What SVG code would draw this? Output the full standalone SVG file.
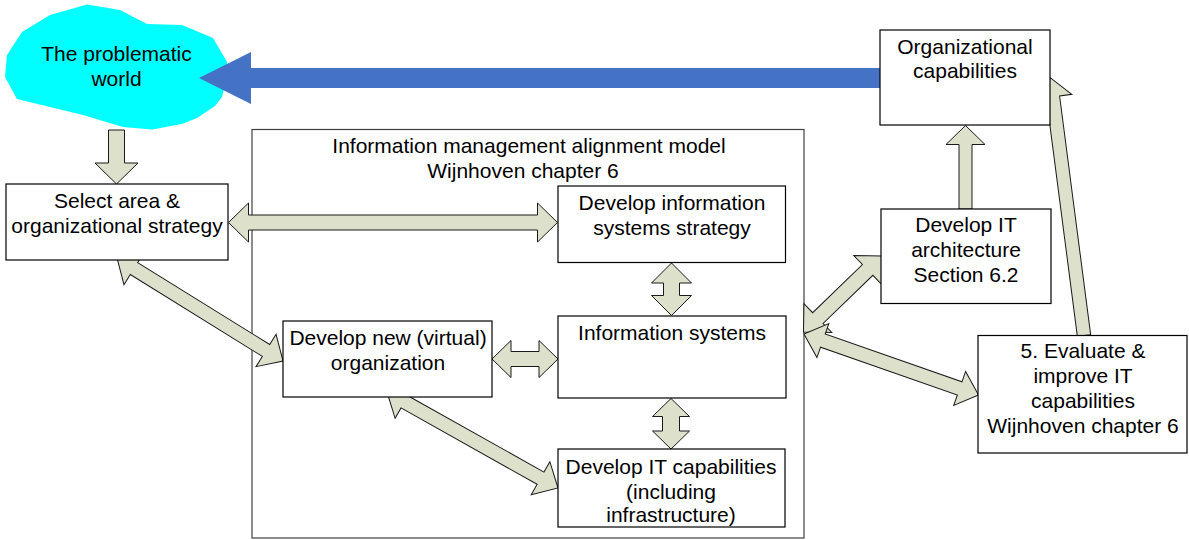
<svg xmlns="http://www.w3.org/2000/svg" width="1189" height="540" viewBox="0 0 1189 540">
<style>
  .box { fill: #ffffff; stroke: #000000; stroke-width: 1.2; }
  .big { fill: #ffffff; stroke: #404040; stroke-width: 1.2; }
  .ba { fill: #dde0cb; stroke: #1a1a1a; stroke-width: 1; stroke-linejoin: miter; }
  .blue { fill: #4472c4; stroke: none; }
  text { font-family: "Liberation Sans", Arial, sans-serif; font-size: 21px; fill: #000000; text-anchor: middle; }
</style>
<rect x="0" y="0" width="1189" height="540" fill="#ffffff"/>

<g id="node-problematic-world">
  <polygon points="5,77 7,55 22,32 50,15 87,4.5 120,10 147,24 182,25 213,38 227,62 226,80 222,97 215,106 197,118 182,124 152,129.5 123,127 83,115 17,99" fill="#00ffff" stroke="none"/>
  <text x="116.5" y="61">The problematic</text>
  <text x="116.5" y="86">world</text>
</g>

<g id="node-im-alignment-model">
  <rect class="big" x="252" y="129.5" width="552" height="408.5"/>
  <text x="529" y="153">Information management alignment model</text>
  <text x="523" y="177.5">Wijnhoven chapter 6</text>
</g>

<g id="connectors">
  <polygon class="blue" points="880,68 251,68 251,52 199,78 251,104 251,88 880,88"/>
  <polygon class="ba" transform="translate(116.5,130) rotate(90)" points="0,-8 33,-8 33,-21.5 54,0 33,21.5 33,8 0,8"/>
  <polygon class="ba" transform="translate(228.5,222.5)" points="0,0 20,-19.5 20,-7.5 309,-7.5 309,-19.5 329,0 309,19.5 309,7.5 20,7.5 20,19.5"/>
  <polygon class="ba" transform="translate(117,258) rotate(31.82)" points="0,0 20,-19 20,-7 175.4,-7 175.4,-19 195.4,0 175.4,19 175.4,7 20,7 20,19"/>
  <polygon class="ba" transform="translate(671.5,263) rotate(90)" points="0,0 20,-20 20,-8 32.5,-8 32.5,-20 52.5,0 32.5,20 32.5,8 20,8 20,20"/>
  <polygon class="ba" transform="translate(492,359)" points="0,0 19,-18.5 19,-7.5 47,-7.5 47,-18.5 66,0 47,18.5 47,7.5 19,7.5 19,18.5"/>
  <polygon class="ba" transform="translate(671,398.5) rotate(90)" points="0,0 18,-18.5 18,-8.5 32.5,-8.5 32.5,-18.5 50.5,0 32.5,18.5 32.5,8.5 18,8.5 18,18.5"/>
  <polygon class="ba" transform="translate(387,392) rotate(29.31)" points="0,0 20,-19 20,-7 176.1,-7 176.1,-19 196.1,0 176.1,19 176.1,7 20,7 20,19"/>
  <polygon class="ba" transform="translate(803.5,332) rotate(-44.07)" points="0,0 20,-20 20,-7.5 89.3,-7.5 89.3,-20 109.3,0 89.3,20 89.3,7.5 20,7.5 20,20"/>
  <polygon class="ba" transform="translate(804,334) rotate(19.27)" points="0,0 20,-18 20,-7 164.9,-7 164.9,-18 184.9,0 164.9,18 164.9,7 20,7 20,18"/>
  <polygon class="ba" transform="translate(1084,335.5) rotate(-97.41)" points="0,-6.7 240.7,-6.7 240.7,-19 259.7,0 240.7,19 240.7,6.7 0,6.7"/>
  <polygon class="ba" transform="translate(965.5,209) rotate(-90)" points="0,-6.5 64.5,-6.5 64.5,-19.5 83.5,0 64.5,19.5 64.5,6.5 0,6.5"/>
</g>

<g id="node-select-area">
  <rect class="box" x="6" y="184" width="222" height="76"/>
  <text x="117" y="208.3">Select area &amp;</text>
  <text x="117" y="232.7">organizational strategy</text>
</g>

<g id="node-org-capabilities">
  <rect class="box" x="880" y="30" width="170" height="95"/>
  <text x="965" y="53.5">Organizational</text>
  <text x="965" y="78">capabilities</text>
</g>

<g id="node-develop-is-strategy">
  <rect class="box" x="558" y="186" width="227.5" height="76.5"/>
  <text x="672" y="210">Develop information</text>
  <text x="672" y="235">systems strategy</text>
</g>

<g id="node-information-systems">
  <rect class="box" x="558" y="316" width="228" height="82"/>
  <text x="672" y="340">Information systems</text>
</g>

<g id="node-develop-new-organization">
  <rect class="box" x="283" y="321" width="209" height="76"/>
  <text x="388" y="345">Develop new (virtual)</text>
  <text x="388" y="369.5">organization</text>
</g>

<g id="node-develop-it-capabilities">
  <rect class="box" x="558" y="449" width="227" height="78"/>
  <text x="671" y="474">Develop IT capabilities</text>
  <text x="671" y="498.5">(including</text>
  <text x="671" y="522">infrastructure)</text>
</g>

<g id="node-develop-it-architecture">
  <rect class="box" x="881" y="209" width="170" height="94.5"/>
  <text x="966" y="231.5">Develop IT</text>
  <text x="966" y="256.5">architecture</text>
  <text x="966" y="281.5">Section 6.2</text>
</g>

<g id="node-evaluate-improve">
  <rect class="box" x="978" y="335.5" width="209" height="117.5"/>
  <text x="1083" y="358">5. Evaluate &amp;</text>
  <text x="1083" y="383">improve IT</text>
  <text x="1083" y="408">capabilities</text>
  <text x="1083" y="433">Wijnhoven chapter 6</text>
</g>
</svg>
